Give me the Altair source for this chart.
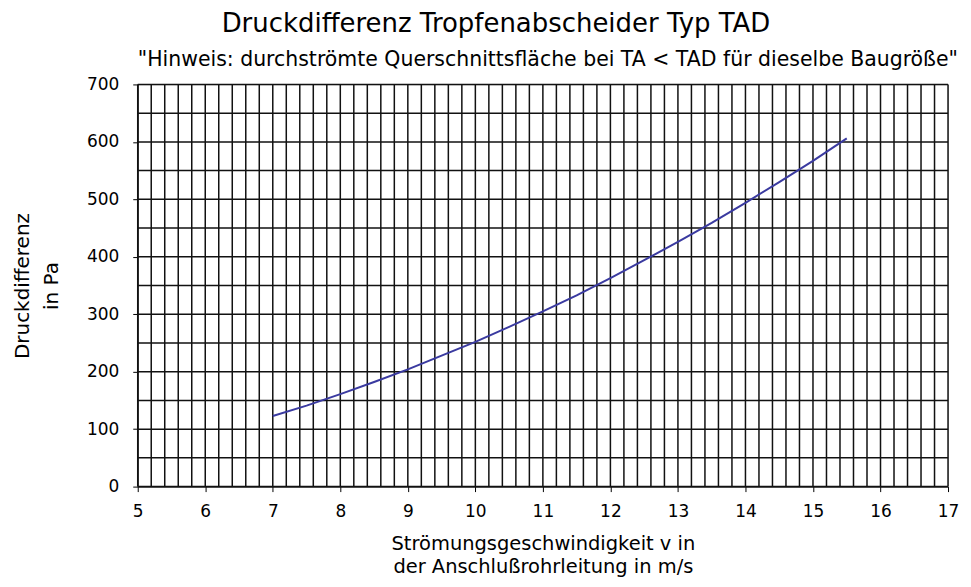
import altair as alt
import pandas as pd

# ---- data ----
speed = [7.0, 7.5, 8.0, 8.5, 9.0, 9.5, 10.0, 10.5, 11.0, 11.5, 12.0, 12.5,
         13.0, 13.5, 14.0, 14.5, 15.0, 15.5]
pressure = [123, 141, 161, 182, 204, 228, 252, 278, 305, 333, 363, 394,
            426, 459, 494, 530, 567, 606]

x_ticks = list(range(5, 18))
y_ticks = list(range(0, 701, 100))
x_grid = [round(5 + 0.2 * i, 1) for i in range(61)]
y_grid = list(range(0, 701, 50))

title_text = "Druckdifferenz Tropfenabscheider Typ TAD"
subtitle_text = '"Hinweis: durchströmte Querschnittsfläche bei TA < TAD für dieselbe Baugröße"'
x_title = ["Strömungsgeschwindigkeit v in", "der Anschlußrohrleitung in m/s"]
y_title = ["Druckdifferenz", "in Pa"]

FONT = "DejaVu Sans"
W, H = 812, 403

curve = pd.DataFrame({"v": speed, "p": pressure})
xs = alt.Scale(domain=[5, 17], nice=False, zero=False)
ys = alt.Scale(domain=[0, 700], nice=False)

x_axis = alt.Axis(values=x_ticks, title=x_title, grid=False,
                  tickSize=5, tickColor="black", domainColor="black",
                  labelFont=FONT, labelFontSize=17, labelColor="black",
                  labelPadding=12, titleFont=FONT, titleFontSize=19.5,
                  titleFontWeight="normal", titleColor="black",
                  titleLineHeight=23, titlePadding=15, labelFlush=False)
y_axis = alt.Axis(values=y_ticks, title=y_title, grid=False,
                  tickSize=5, tickColor="black", domainColor="black",
                  labelFont=FONT, labelFontSize=17, labelColor="black",
                  labelPadding=14, titleFont=FONT, titleFontSize=20,
                  titleFontWeight="normal", titleColor="black",
                  titleLineHeight=29, titlePadding=25, labelFlush=False)

vgrid = alt.Chart(pd.DataFrame({"gx": x_grid})).mark_rule(
    color="#111111", strokeWidth=1.5
).encode(x=alt.X("gx:Q", scale=xs, axis=x_axis))

hgrid = alt.Chart(pd.DataFrame({"gy": y_grid})).mark_rule(
    color="#111111", strokeWidth=1.5
).encode(y=alt.Y("gy:Q", scale=ys, axis=y_axis))

line = alt.Chart(curve).mark_line(color="#3a3aa0", strokeWidth=2).encode(
    x=alt.X("v:Q", scale=xs, axis=x_axis),
    y=alt.Y("p:Q", scale=ys, axis=y_axis),
)

title_mark = alt.Chart(pd.DataFrame({"t": [title_text]})).mark_text(
    font=FONT, fontSize=26, color="black", align="center", baseline="alphabetic"
).encode(text="t:N", x=alt.value(359), y=alt.value(-53))

subtitle_mark = alt.Chart(pd.DataFrame({"t": [subtitle_text]})).mark_text(
    font=FONT, fontSize=20.5, color="black", align="center", baseline="alphabetic"
).encode(text="t:N", x=alt.value(411), y=alt.value(-18))

chart = alt.layer(vgrid, hgrid, line, title_mark, subtitle_mark).properties(
    width=W, height=H,
    autosize=alt.AutoSizeParams(type="none"),
    padding={"left": 130, "top": 76, "right": 15, "bottom": 92},
).configure_view(stroke=None).configure(background="white")

chart.save("out.html", embed_options={"renderer": "svg", "actions": False})
